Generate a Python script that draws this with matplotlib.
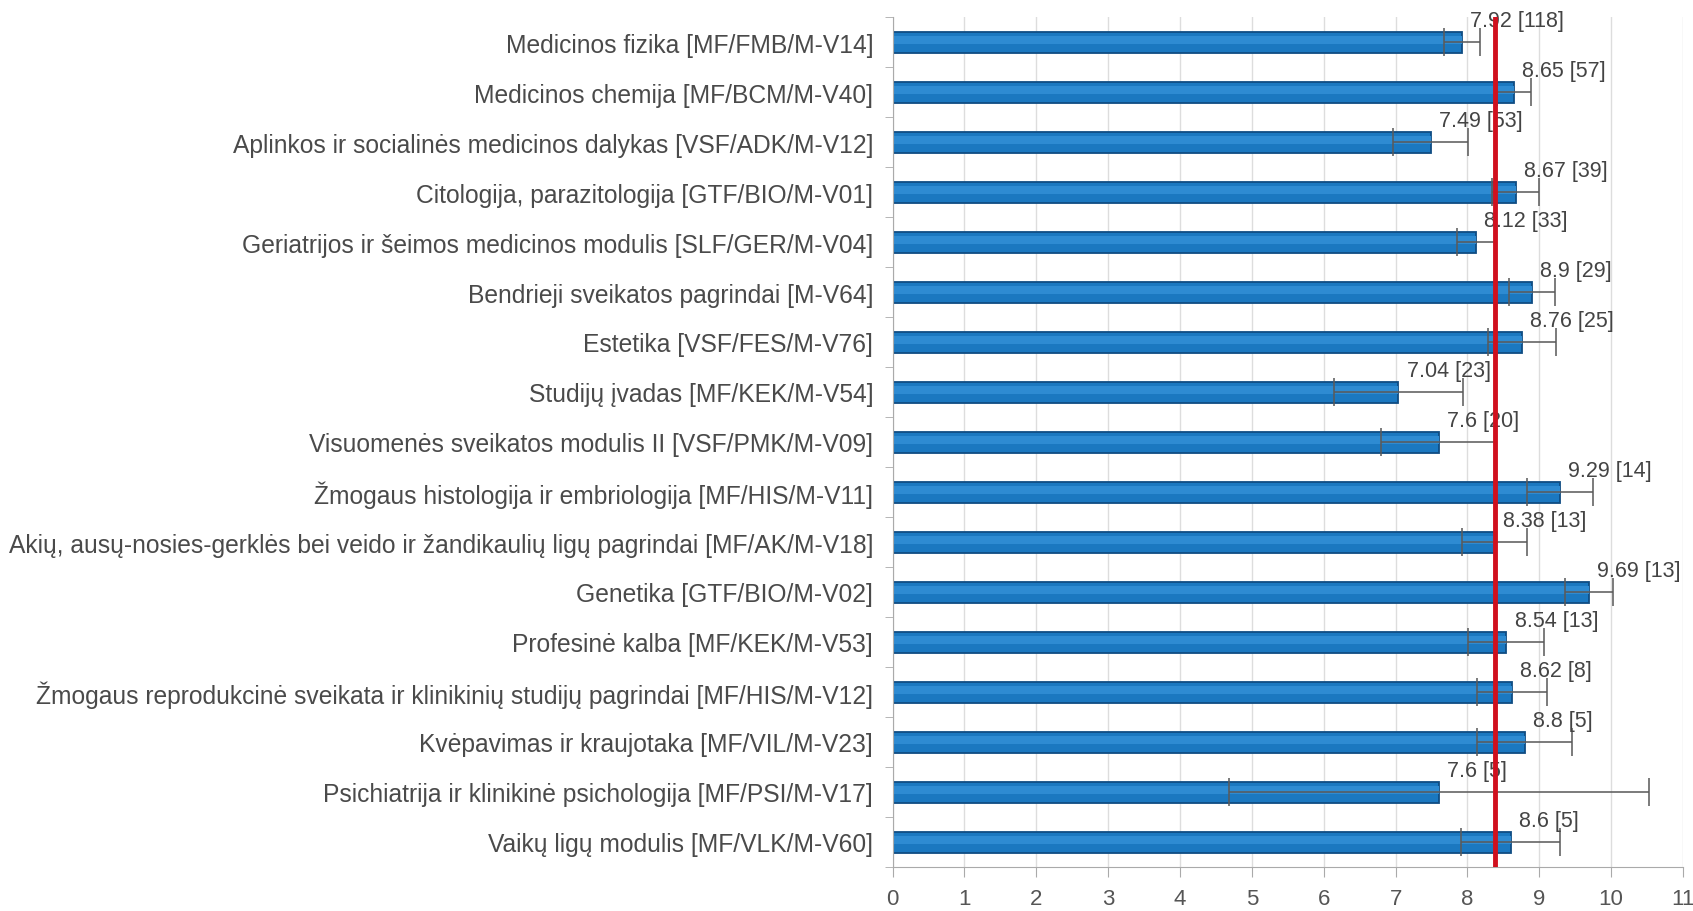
import matplotlib
matplotlib.use("Agg")
import matplotlib.pyplot as plt
import numpy as np

categories = [
    "Medicinos fizika [MF/FMB/M-V14]",
    "Medicinos chemija [MF/BCM/M-V40]",
    "Aplinkos ir socialinės medicinos dalykas [VSF/ADK/M-V12]",
    "Citologija, parazitologija [GTF/BIO/M-V01]",
    "Geriatrijos ir šeimos medicinos modulis [SLF/GER/M-V04]",
    "Bendrieji sveikatos pagrindai [M-V64]",
    "Estetika [VSF/FES/M-V76]",
    "Studijų įvadas [MF/KEK/M-V54]",
    "Visuomenės sveikatos modulis II [VSF/PMK/M-V09]",
    "Žmogaus histologija ir embriologija [MF/HIS/M-V11]",
    "Akių, ausų-nosies-gerklės bei veido ir žandikaulių ligų pagrindai [MF/AK/M-V18]",
    "Genetika [GTF/BIO/M-V02]",
    "Profesinė kalba [MF/KEK/M-V53]",
    "Žmogaus reprodukcinė sveikata ir klinikinių studijų pagrindai [MF/HIS/M-V12]",
    "Kvėpavimas ir kraujotaka [MF/VIL/M-V23]",
    "Psichiatrija ir klinikinė psichologija [MF/PSI/M-V17]",
    "Vaikų ligų modulis [MF/VLK/M-V60]",
]
values = [7.92, 8.65, 7.49, 8.67, 8.12, 8.9, 8.76, 7.04, 7.6, 9.29, 8.38, 9.69, 8.54, 8.62, 8.8, 7.6, 8.6]
counts = [118, 57, 53, 39, 33, 29, 25, 23, 20, 14, 13, 13, 13, 8, 5, 5, 5]
errors = [0.25, 0.24, 0.52, 0.33, 0.26, 0.32, 0.47, 0.9, 0.8, 0.46, 0.45, 0.33, 0.53, 0.49, 0.66, 2.92, 0.69]
average = 8.39
x_ticks = list(range(0, 12))

plt.rcParams['font.family'] = ['Liberation Sans', 'DejaVu Sans']

fig = plt.figure(figsize=(16.93, 9.12), dpi=100)
ax = fig.add_axes([892.6 / 1693, 1 - 868 / 912, (1683 - 892.6) / 1693, (868 - 18) / 912])

y = np.arange(len(categories))
bar_h = 0.42

ax.barh(y, values, height=bar_h, color="#1b78c0", edgecolor="#0f4c82", linewidth=1.3, zorder=2)
ax.barh(y - bar_h * 0.1, values, height=bar_h * 0.4, color="#2e8bd2", linewidth=0, zorder=2.1)

ax.errorbar(values, y, xerr=errors, fmt="none", ecolor="#5a5a5a", elinewidth=1.4,
            capsize=10, capthick=1.4, alpha=0.8, zorder=2.5)

for i, (v, c) in enumerate(zip(values, counts)):
    ax.annotate(f"{v:g} [{c}]", xy=(v, i - bar_h / 2), xytext=(6, 0),
                textcoords="offset points", ha="left", va="bottom",
                fontsize=15.5, color="#444444", zorder=3)

ax.axvline(average, color="#d0101e", linewidth=3.5, zorder=4)

ax.set_xlim(0, 11)
ax.set_ylim(len(categories) - 0.5, -0.5)
ax.set_xticks(x_ticks)
ax.set_xticklabels([str(t) for t in x_ticks], fontsize=16, color="#555555")
ax.set_yticks(y)
ax.set_yticklabels(categories, fontsize=17.7, color="#4a4a4a")
ax.set_yticks(np.arange(-0.5, len(categories), 1.0), minor=True)
ax.tick_params(axis="y", which="major", length=0, pad=14)
ax.tick_params(axis="y", which="minor", length=6, color="#aaaaaa", direction="out")
ax.tick_params(axis="x", which="major", length=7, color="#aaaaaa", direction="out", pad=8)

ax.grid(axis="x", color="#dddddd", linewidth=1.0, zorder=0)
ax.set_axisbelow(True)
for s in ["top", "right"]:
    ax.spines[s].set_visible(False)
ax.spines["left"].set_color("#aaaaaa")
ax.spines["bottom"].set_color("#aaaaaa")

fig.savefig("out.png", dpi=100)
